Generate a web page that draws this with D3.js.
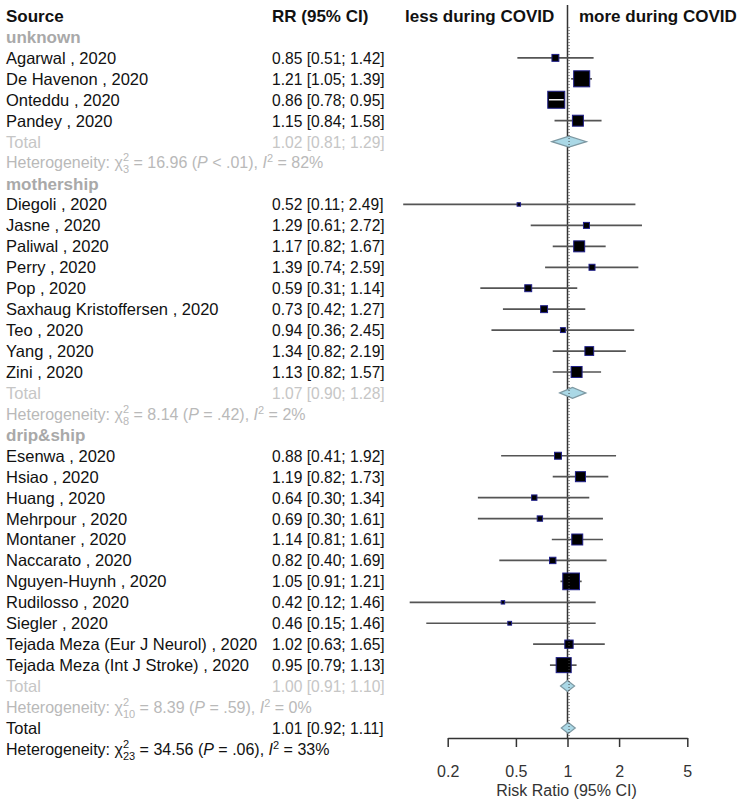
<!DOCTYPE html>
<html>
<head>
<meta charset="utf-8">
<script src="https://cdn.jsdelivr.net/npm/d3@7"></script>
<style>
  html, body { margin: 0; padding: 0; background: #fff; }
  svg { display: block; font-family: "Liberation Sans", Arial, sans-serif; }
</style>
</head>
<body>
<div id="chart"></div>
<script>
// ---------------- data ----------------
const groups = ["unknown", "mothership", "drip&ship"];
const studyNames = [
  "Agarwal , 2020", "De Havenon , 2020", "Onteddu , 2020", "Pandey , 2020",
  "Diegoli , 2020", "Jasne , 2020", "Paliwal , 2020", "Perry , 2020", "Pop , 2020",
  "Saxhaug Kristoffersen , 2020", "Teo , 2020", "Yang , 2020", "Zini , 2020",
  "Esenwa , 2020", "Hsiao , 2020", "Huang , 2020", "Mehrpour , 2020", "Montaner , 2020",
  "Naccarato , 2020", "Nguyen-Huynh , 2020", "Rudilosso , 2020", "Siegler , 2020",
  "Tejada Meza (Eur J Neurol) , 2020", "Tejada Meza (Int J Stroke) , 2020"
];
const studyGroup = [0,0,0,0, 1,1,1,1,1,1,1,1,1, 2,2,2,2,2,2,2,2,2,2,2];
const rr    = [0.85,1.21,0.86,1.15, 0.52,1.29,1.17,1.39,0.59,0.73,0.94,1.34,1.13, 0.88,1.19,0.64,0.69,1.14,0.82,1.05,0.42,0.46,1.02,0.95];
const lower = [0.51,1.05,0.78,0.84, 0.11,0.61,0.82,0.74,0.31,0.42,0.36,0.82,0.82, 0.41,0.82,0.30,0.30,0.81,0.40,0.91,0.12,0.15,0.63,0.79];
const upper = [1.42,1.39,0.95,1.58, 2.49,2.72,1.67,2.59,1.14,1.27,2.45,2.19,1.57, 1.92,1.73,1.34,1.61,1.61,1.69,1.21,1.46,1.46,1.65,1.13];
const weights = [2.0,10.7,12.0,5.0, 0.5,1.5,5.0,1.5,2.0,2.0,1.0,3.2,5.0, 2.0,4.2,1.2,1.2,5.0,1.7,11.6,0.5,0.6,2.9,9.4];

const groupRR    = [1.02, 1.07, 1.00];
const groupLower = [0.81, 0.90, 0.91];
const groupUpper = [1.29, 1.28, 1.10];
const groupHetDf  = ["3", "8", "10"];
const groupHetChi = ["16.96", "8.14", "8.39"];
const groupHetP   = ["< .01", "= .42", "= .59"];
const groupHetI2  = ["82%", "2%", "0%"];

const overallRR = 1.01, overallLower = 0.92, overallUpper = 1.11;
const overallHet = {df: "23", chi: "34.56", p: "= .06", i2: "33%"};

const tickValues = [0.2, 0.5, 1, 2, 5];
const tickLabels = ["0.2", "0.5", "1", "2", "5"];

// ---------------- layout ----------------
const W = 744, H = 805;
const svg = d3.select("#chart").append("svg").attr("width", W).attr("height", H);
svg.append("rect").attr("width", W).attr("height", H).attr("fill", "#fff");

const x = d3.scaleLog().domain([0.2, 5]).range([447.7, 687.3]);
const y = d3.scaleLinear().domain([0, 35]).range([16, 16 + 20.94 * 35]);
const sq = d3.scaleSqrt().domain([0, 12]).range([0, 17]);
const fmt = d3.format(".2f");
const ciText = (m, l, u) => `${fmt(m)} [${fmt(l)}; ${fmt(u)}]`;

// build rows
const rows = [];
let r = 1;
groups.forEach((g, gi) => {
  rows.push({type: "group", row: r++, label: g});
  studyNames.forEach((n, i) => {
    if (studyGroup[i] === gi) rows.push({type: "study", row: r++, label: n, m: rr[i], l: lower[i], u: upper[i], w: weights[i]});
  });
  rows.push({type: "subtotal", row: r++, label: "Total", m: groupRR[gi], l: groupLower[gi], u: groupUpper[gi]});
  rows.push({type: "subhet", row: r++, df: groupHetDf[gi], chi: groupHetChi[gi], p: groupHetP[gi], i2: groupHetI2[gi]});
});
rows.push({type: "total", row: r++, label: "Total", m: overallRR, l: overallLower, u: overallUpper});
rows.push({type: "het", row: r++, df: overallHet.df, chi: overallHet.chi, p: overallHet.p, i2: overallHet.i2});

const colors = {group: "#a9a9a9", study: "#111", subtotal: "#c6c6c6", subhet: "#b9b9b9", total: "#111", het: "#111"};

// ---------------- header ----------------
const hdr = svg.append("g").attr("font-weight", "bold").attr("font-size", 17).attr("fill", "#111");
hdr.append("text").attr("x", 6).attr("y", y(0)).attr("dy", "0.36em").text("Source");
hdr.append("text").attr("x", 272).attr("y", y(0)).attr("dy", "0.36em").text("RR (95% CI)");
hdr.append("text").attr("x", 405).attr("y", y(0)).attr("dy", "0.36em").text("less during COVID");
hdr.append("text").attr("x", 579).attr("y", y(0)).attr("dy", "0.36em").text("more during COVID");

// ---------------- left text ----------------
const txt = svg.append("g");
rows.forEach(d => {
  const yy = y(d.row);
  const col = colors[d.type];
  if (d.type === "group") {
    txt.append("text").attr("x", 6).attr("y", yy).attr("dy", "0.36em")
      .attr("font-size", 17).attr("font-weight", "bold").attr("fill", col).text(d.label);
  } else if (d.type === "study" || d.type === "subtotal" || d.type === "total") {
    txt.append("text").attr("x", 6).attr("y", yy).attr("dy", "0.36em")
      .attr("font-size", 16.5).attr("fill", col).text(d.label);
    txt.append("text").attr("transform", `translate(272,${yy}) scale(0.945,1)`).attr("dy", "0.36em")
      .attr("font-size", 16.5).attr("fill", col).text(ciText(d.m, d.l, d.u));
  } else {
    const t = txt.append("text").attr("x", 6).attr("y", yy).attr("dy", "0.36em")
      .attr("font-size", 16).attr("fill", col);
    t.append("tspan").text("Heterogeneity: \u03c7");
    t.append("tspan").attr("font-size", 11).attr("dy", -7).text("2");
    t.append("tspan").attr("font-size", 11).attr("dx", -6.1).attr("dy", 12).text(d.df);
    t.append("tspan").attr("dy", -5).text(` = ${d.chi} (`);
    t.append("tspan").attr("font-style", "italic").text("P");
    t.append("tspan").text(` ${d.p}), `);
    t.append("tspan").attr("font-style", "italic").text("I");
    t.append("tspan").attr("font-size", 11).attr("dy", -6).text("2");
    t.append("tspan").attr("dy", 6).text(` = ${d.i2}`);
  }
});

// ---------------- plot ----------------
const plot = svg.append("g");
// reference line at 1
plot.append("line").attr("x1", x(1)).attr("x2", x(1)).attr("y1", 5).attr("y2", 738)
  .attr("stroke", "#333").attr("stroke-width", 1.5);

const studies = rows.filter(d => d.type === "study");
plot.selectAll("line.ci").data(studies).join("line").attr("class", "ci")
  .attr("x1", d => x(d.l)).attr("x2", d => x(d.u))
  .attr("y1", d => y(d.row)).attr("y2", d => y(d.row))
  .attr("stroke", "#555").attr("stroke-width", 1.7);

plot.selectAll("rect.box").data(studies).join("rect").attr("class", "box")
  .attr("x", d => x(d.m) - sq(d.w) / 2).attr("y", d => y(d.row) - sq(d.w) / 2)
  .attr("width", d => sq(d.w)).attr("height", d => sq(d.w))
  .attr("fill", "#000").attr("stroke", "#20208a").attr("stroke-width", 1);

// CI lines that lie inside their box drawn in white
plot.selectAll("line.inside").data(studies.filter(d => x(d.l) >= x(d.m) - sq(d.w) / 2 && x(d.u) <= x(d.m) + sq(d.w) / 2))
  .join("line").attr("class", "inside")
  .attr("x1", d => x(d.l)).attr("x2", d => x(d.u))
  .attr("y1", d => y(d.row)).attr("y2", d => y(d.row))
  .attr("stroke", "#fff").attr("stroke-width", 1.4);

const pooled = rows.filter(d => d.type === "subtotal" || d.type === "total");
plot.selectAll("path.diamond").data(pooled).join("path").attr("class", "diamond")
  .attr("d", d => {
    const yy = y(d.row);
    return `M${x(d.l)},${yy}L${x(d.m)},${yy - 5.5}L${x(d.u)},${yy}L${x(d.m)},${yy + 5.5}Z`;
  })
  .attr("fill", "#aad8e6").attr("stroke", "#7d98a2").attr("stroke-width", 1.2);

// dotted overall-effect line
plot.append("line").attr("x1", x(overallRR) + 0.8).attr("x2", x(overallRR) + 0.8).attr("y1", 27).attr("y2", 738)
  .attr("stroke", "#444").attr("stroke-width", 1).attr("stroke-dasharray", "1,2");

// ---------------- axis ----------------
const axis = d3.axisBottom(x).tickValues(tickValues)
  .tickFormat((v, i) => tickLabels[i]).tickSize(9).tickSizeOuter(0).tickPadding(19);
const ax = svg.append("g").attr("transform", "translate(0,738)").call(axis);
ax.select(".domain").attr("stroke", "#333").attr("stroke-width", 1.5);
ax.selectAll(".tick line").attr("stroke", "#333").attr("stroke-width", 1.5);
ax.selectAll(".tick text").attr("font-size", 16).attr("fill", "#333")
  .attr("font-family", "Liberation Sans, Arial, sans-serif");
svg.append("text").attr("x", x(1) - 1).attr("y", 796).attr("text-anchor", "middle")
  .attr("font-size", 16).attr("fill", "#333").text("Risk Ratio (95% CI)");
</script>
</body>
</html>
